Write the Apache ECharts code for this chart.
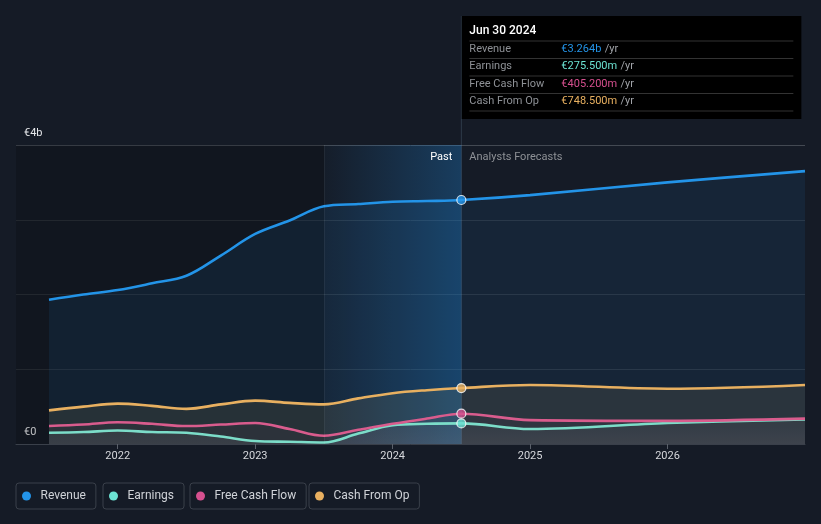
<!DOCTYPE html>
<html>
<head>
<meta charset="utf-8">
<script src="https://cdn.jsdelivr.net/npm/echarts@6/dist/echarts.min.js"></script>
<style>
html,body{margin:0;padding:0;background:#151b26;}
#c{width:821px;height:524px;}
</style>
</head>
<body>
<div id="c"></div>
<script>
// ---- data (values in € billions, x in decimal years) ----
const pastYears   = [2021.5, 2021.75, 2022.0, 2022.25, 2022.5, 2022.75, 2023.0, 2023.25, 2023.5, 2023.75, 2024.0, 2024.25, 2024.5];
const pastRevenue = [1.93, 2.00, 2.06, 2.15, 2.25, 2.52, 2.81, 2.99, 3.18, 3.21, 3.24, 3.25, 3.264];
const pastEarnings= [0.15, 0.16, 0.18, 0.16, 0.15, 0.10, 0.04, 0.03, 0.02, 0.14, 0.25, 0.27, 0.2755];
const pastFCF     = [0.24, 0.26, 0.29, 0.27, 0.24, 0.26, 0.28, 0.20, 0.11, 0.19, 0.27, 0.34, 0.4052];
const pastCFO     = [0.45, 0.50, 0.54, 0.51, 0.47, 0.53, 0.58, 0.55, 0.53, 0.61, 0.68, 0.72, 0.7485];
const foreYears   = [2025.0, 2026.0, 2027.0];
const foreRevenue = [3.33, 3.50, 3.65];
const foreEarnings= [0.20, 0.28, 0.33];
const foreFCF     = [0.32, 0.31, 0.34];
const foreCFO     = [0.79, 0.74, 0.79];
const yearTicks   = [2022, 2023, 2024, 2025, 2026];
const seriesNames = ['Revenue', 'Earnings', 'Free Cash Flow', 'Cash From Op'];
const tooltipDate = 'Jun 30 2024';
const pastLabel = 'Past';
const foreLabel = 'Analysts Forecasts';

const colors = {Revenue:'#2394e8', Earnings:'#6ce3d3', 'Free Cash Flow':'#d6508f', 'Cash From Op':'#e8b060'};
const X_MIN = 2021.26, X_MAX = 2027.0, PAST_START = 2023.5, NOW = 2024.5;

function pairs(xs, ys){ return xs.map((x,i)=>[x, ys[i]]); }
function full(p, f){ return pairs(pastYears, p).concat(pairs(foreYears, f)); }
const lines = {
  'Revenue': full(pastRevenue, foreRevenue),
  'Earnings': full(pastEarnings, foreEarnings),
  'Free Cash Flow': full(pastFCF, foreFCF),
  'Cash From Op': full(pastCFO, foreCFO)
};
const fills = {
  'Revenue': 'rgba(33,150,243,0.12)',
  'Earnings': new echarts.graphic.LinearGradient(0,0,0,1,[{offset:0,color:'rgba(130,200,210,0.06)'},{offset:1,color:'rgba(200,210,230,0.12)'}]),
  'Free Cash Flow': 'rgba(214,80,143,0.05)',
  'Cash From Op': 'rgba(255,215,130,0.12)'
};
const FONT = 'Roboto, "DejaVu Sans", sans-serif';

const chart = echarts.init(document.getElementById('c'), null, {renderer:'canvas'});

const series = [];
// background regions
series.push({
  type:'line', name:'_bg', data:[], z:0, silent:true,
  markArea:{silent:true, data:[
    [{xAxis:X_MIN, itemStyle:{color:'rgba(0,0,0,0.18)'}},{xAxis:PAST_START}],
    [{xAxis:PAST_START, itemStyle:{color:new echarts.graphic.LinearGradient(0,0,1,0,[{offset:0,color:'rgba(33,150,243,0.02)'},{offset:1,color:'rgba(33,150,243,0.28)'}])}},{xAxis:NOW}]
  ]},
  markLine:{silent:true, symbol:'none', label:{show:false},
    lineStyle:{color:'rgba(255,255,255,0.06)', type:'solid', width:1},
    data:[{xAxis:PAST_START}]}
});
seriesNames.forEach((n,i)=>{
  series.push({
    type:'line', name:n, data:lines[n], smooth:0.35, showSymbol:false, z:2+i,
    lineStyle:{color:colors[n], width:2.6},
    itemStyle:{color:colors[n]},
    areaStyle:{color:fills[n], origin:'start'}
  });
});
// current markers
series.push({
  type:'scatter', name:'_now', z:20, symbolSize:9,
  data: seriesNames.map(n=>({value:[NOW, lines[n][pastYears.length-1][1]], itemStyle:{color:colors[n]}})),
  itemStyle:{borderColor:'#ffffff', borderWidth:1.2}
});

const legendLefts = [16, 103, 190, 309];
const legends = seriesNames.map((n,i)=>({
  data:[n], left:legendLefts[i], top:483, orient:'horizontal',
  icon:'circle', itemWidth:18, itemHeight:9, itemGap:0,
  padding:[7,10,7,6], borderColor:'#3a404a', borderWidth:1, borderRadius:3,
  textStyle:{color:'#d0d3d8', fontSize:12, fontFamily:FONT},
  selectedMode:false
}));

chart.setOption({
  backgroundColor:'#151b26',
  animation:false,
  grid:{left:16, right:16, top:145, bottom:80, containLabel:false},
  xAxis:{
    type:'value', min:X_MIN, max:X_MAX,
    axisLine:{show:true, lineStyle:{color:'#3a404a'}},
    axisTick:{show:true, customValues:yearTicks, length:5, lineStyle:{color:'#5a606a'}},
    axisLabel:{customValues:yearTicks, color:'#d6d8dc', fontSize:11, fontFamily:FONT, margin:7, formatter:v=>String(Math.round(v))},
    splitLine:{show:false}
  },
  yAxis:{
    type:'value', min:0, max:4, interval:1,
    axisLine:{show:false}, axisTick:{show:false},
    axisLabel:{inside:true, margin:8, verticalAlign:'bottom', padding:[0,0,6,0], color:'#e6e8eb', fontSize:11, fontFamily:FONT,
      formatter:v=> v===0 ? '€0' : (v===4 ? '€4b' : '')},
    splitLine:{show:true, lineStyle:{color:['#2a3039','#2a3039','#2a3039','#2a3039','#434952'], width:1}}
  },
  legend: legends,
  series: series
});

// annotations anchored to the axis scales
const pNow = chart.convertToPixel({gridIndex:0}, [NOW, 4]);
const pZero = chart.convertToPixel({gridIndex:0}, [NOW, 0]);
function fmt(v){ return v >= 1 ? '€' + v.toFixed(3) + 'b' : '€' + (v*1000).toFixed(3) + 'm'; }
const tipX = pNow[0], tipY = 16, tipW = 340, tipH = 103;
const rowYs = [49, 66.5, 84, 101];
const sepYs = [41, 58.5, 76, 93.5, 111];
const tipChildren = [
  {type:'rect', shape:{x:0, y:0, width:tipW, height:tipH}, style:{fill:'#000000'}},
  {type:'text', x:8, y:15, style:{text:tooltipDate, fill:'#ffffff', fontSize:12, fontWeight:500, fontFamily:FONT, verticalAlign:'middle'}}
];
sepYs.forEach(y=>tipChildren.push({type:'line', shape:{x1:8, y1:y-tipY, x2:332, y2:y-tipY}, style:{stroke:'#333333', lineWidth:1}}));
seriesNames.forEach((n,i)=>{
  const v = lines[n][pastYears.length-1][1];
  tipChildren.push({type:'text', x:8, y:rowYs[i]-tipY, style:{text:n, fill:'#8e9196', fontSize:11, fontFamily:FONT, verticalAlign:'middle'}});
  tipChildren.push({type:'text', x:100, y:rowYs[i]-tipY, style:{
    text:'{v|' + fmt(v) + '} {u|/yr}', verticalAlign:'middle',
    rich:{v:{fill:colors[n], fontSize:11, fontFamily:FONT}, u:{fill:'#a0a3a8', fontSize:11, fontFamily:FONT}}
  }});
});

chart.setOption({
  graphic:[
    {type:'line', z:5, shape:{x1:pNow[0], y1:tipY, x2:pNow[0], y2:pZero[1]}, style:{stroke:'rgba(120,150,180,0.25)', lineWidth:1}},
    {type:'group', x:tipX, y:tipY, z:30, children:tipChildren},
    {type:'text', z:10, x:pNow[0]-9, y:pNow[1]+12, style:{text:pastLabel, fill:'#ffffff', fontSize:11, fontFamily:FONT, align:'right', verticalAlign:'middle'}},
    {type:'text', z:10, x:pNow[0]+8, y:pNow[1]+12, style:{text:foreLabel, fill:'#8e9196', fontSize:11, fontFamily:FONT, align:'left', verticalAlign:'middle'}}
  ]
});
</script>
</body>
</html>
